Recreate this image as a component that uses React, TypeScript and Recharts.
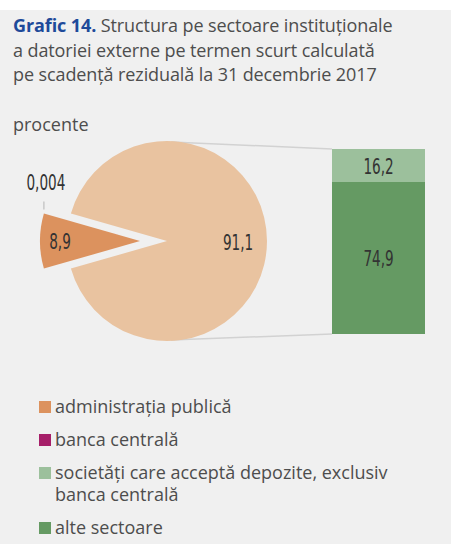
import React from 'react'
import { PieChart, Pie, Cell, BarChart, Bar, XAxis, YAxis, LabelList } from 'recharts'

// sectors (legend order)
const sectors = [
  'administrația publică',
  'banca centrală',
  'societăți care acceptă depozite, exclusiv banca centrală',
  'alte sectoare',
]
const sectorColors = ['#dc925e', '#a61f69', '#9cc09c', '#659a63']

// pie: administrația publică, banca centrală, rest (split in the bar)
const pieNames = ['administrația publică', 'banca centrală', 'restul']
const pieValues = [8.9, 0.004, 91.1]

// bar: breakdown of the rest
const barNames = ['societăți care acceptă depozite', 'alte sectoare']
const barValues = [16.2, 74.9]

const pieData = pieNames.map((name, i) => ({ name, value: pieValues[i] }))
const barData = [{ name: 'restul', soc: barValues[0], alte: barValues[1] }]

const REST_COLOR = '#e9c3a0'
const GRAY_BG = '#f0f0f0'
const TEXT = '#4d4d4d'
const NUM_FONT = "'DejaVu Sans Condensed', 'DejaVu Sans', sans-serif"
const TEXT_FONT = "'Open Sans', 'Noto Sans', sans-serif"

// layout
const PIE_CX = 167
const PIE_CY = 241
const PIE_R = 100
const EXPLODE = 27
const BAR_X = 332
const BAR_Y = 149
const BAR_W = 93
const BAR_H = 185

const RADIAN = Math.PI / 180
const fmt = (v: number) => String(v).replace('.', ',')

// small slice centred on the left side
const total = pieValues.reduce((s, v) => s + v, 0)
const startAngle = 180 + (pieValues[0] / total) * 180
const endAngle = startAngle - 360

// narrow number label (condensed look)
function NumText({ x, y, children }: { x: number; y: number; children: React.ReactNode }) {
  return (
    <text
      transform={`translate(${x},${y}) scale(0.72,1)`}
      textAnchor="middle"
      dominantBaseline="central"
      fill="#333"
      fontSize={21}
      fontFamily={NUM_FONT}
    >
      {children}
    </text>
  )
}

function mainLabel(props: any) {
  const { cx, cy, midAngle, outerRadius, index, value } = props
  if (index !== 2) return null
  const r = outerRadius * 0.71
  const x = cx + r * Math.cos(-midAngle * RADIAN)
  const y = cy + r * Math.sin(-midAngle * RADIAN)
  return <NumText x={x} y={y + 2}>{fmt(value)}</NumText>
}

function explodedLabel(props: any) {
  const { cx, cy, midAngle, outerRadius, index, value } = props
  if (index === 0) {
    const r = outerRadius * 0.8
    const x = cx + r * Math.cos(-midAngle * RADIAN)
    const y = cy + r * Math.sin(-midAngle * RADIAN)
    return <NumText x={x} y={y + 1}>{fmt(value)}</NumText>
  }
  if (index === 1) {
    const x = cx + outerRadius * Math.cos(-midAngle * RADIAN)
    const y = cy + outerRadius * Math.sin(-midAngle * RADIAN)
    return (
      <g>
        <line x1={x} y1={y - 4} x2={x} y2={y - 12} stroke="#c8c8c8" strokeWidth={1.5} />
        <NumText x={x + 2} y={y - 31}>{fmt(value)}</NumText>
      </g>
    )
  }
  return null
}

function barLabel(props: any) {
  const { x, y, width, height, value } = props
  return <NumText x={x + width / 2} y={y + height / 2 + 1}>{fmt(value)}</NumText>
}

export default function App() {
  return (
    <div style={{ position: 'absolute', left: 0, top: 0, width: 451, height: 544, background: '#fff', overflow: 'hidden' }}>
      <div style={{ position: 'absolute', left: 0, top: 10, width: 451, height: 534, background: GRAY_BG }} />

      {/* title */}
      <div style={{ position: 'absolute', left: 13, top: 13, fontFamily: TEXT_FONT, fontSize: 18, lineHeight: '24.5px', color: TEXT, letterSpacing: -0.1 }}>
        <div>
          <span style={{ color: '#1e4a9a', fontWeight: 700 }}>Grafic 14.</span> Structura pe sectoare instituționale
        </div>
        <div>a datoriei externe pe termen scurt calculată</div>
        <div>pe scadență reziduală la 31 decembrie 2017</div>
      </div>
      <div style={{ position: 'absolute', left: 13, top: 112, fontFamily: TEXT_FONT, fontSize: 18, lineHeight: '24px', color: TEXT }}>
        procente
      </div>

      {/* connector lines */}
      <svg style={{ position: 'absolute', left: 0, top: 0 }} width={451} height={544}>
        <line x1={PIE_CX + 4} y1={PIE_CY - PIE_R + 1} x2={BAR_X} y2={BAR_Y} stroke="#d2d2d2" strokeWidth={1.5} />
        <line x1={PIE_CX + 4} y1={PIE_CY + PIE_R - 1} x2={BAR_X} y2={BAR_Y + BAR_H} stroke="#d2d2d2" strokeWidth={1.5} />
      </svg>

      {/* pie */}
      <div style={{ position: 'absolute', left: 0, top: 0 }}>
        <PieChart width={300} height={360} margin={{ top: 0, right: 0, bottom: 0, left: 0 }}>
          <Pie
            data={pieData}
            dataKey="value"
            cx={PIE_CX}
            cy={PIE_CY}
            outerRadius={PIE_R}
            startAngle={startAngle}
            endAngle={endAngle}
            stroke="none"
            label={mainLabel}
            labelLine={false}
            isAnimationActive={false}
          >
            <Cell fill="transparent" />
            <Cell fill="transparent" />
            <Cell fill={REST_COLOR} />
          </Pie>
          <Pie
            data={pieData}
            dataKey="value"
            cx={PIE_CX - EXPLODE}
            cy={PIE_CY}
            outerRadius={PIE_R}
            startAngle={startAngle}
            endAngle={endAngle}
            stroke="none"
            label={explodedLabel}
            labelLine={false}
            isAnimationActive={false}
          >
            <Cell fill={sectorColors[0]} />
            <Cell fill={sectorColors[1]} />
            <Cell fill="transparent" />
          </Pie>
        </PieChart>
      </div>

      {/* stacked bar of the rest */}
      <div style={{ position: 'absolute', left: BAR_X, top: BAR_Y }}>
        <BarChart width={BAR_W} height={BAR_H} data={barData} margin={{ top: 0, right: 0, bottom: 0, left: 0 }} barCategoryGap={0}>
          <XAxis dataKey="name" hide />
          <YAxis hide domain={[0, barValues[0] + barValues[1]]} />
          <Bar dataKey="alte" name={barNames[1]} stackId="a" fill={sectorColors[3]} isAnimationActive={false}>
            <LabelList dataKey="alte" content={barLabel} />
          </Bar>
          <Bar dataKey="soc" name={barNames[0]} stackId="a" fill={sectorColors[2]} isAnimationActive={false}>
            <LabelList dataKey="soc" content={barLabel} />
          </Bar>
        </BarChart>
      </div>

      {/* legend */}
      <div style={{ position: 'absolute', left: 39, top: 395, fontFamily: TEXT_FONT, fontSize: 18, lineHeight: '22px', color: TEXT }}>
        {sectors.map((s, i) => (
          <div key={s} style={{ display: 'flex', alignItems: 'flex-start', marginBottom: 11 }}>
            <div style={{ width: 12, height: 12, background: sectorColors[i], marginTop: 6, marginRight: 4, flexShrink: 0 }} />
            <div style={{ width: 350 }}>{s}</div>
          </div>
        ))}
      </div>
    </div>
  )
}
